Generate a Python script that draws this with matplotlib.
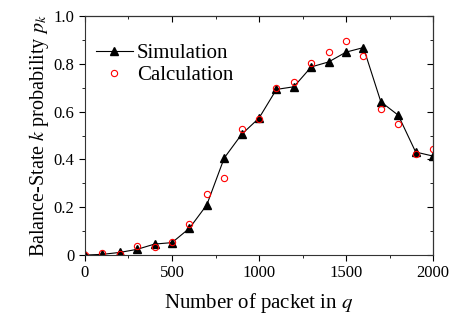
import matplotlib
matplotlib.use("Agg")
import matplotlib.pyplot as plt
from matplotlib.ticker import MultipleLocator

plt.rcParams['font.family'] = ['Liberation Serif', 'DejaVu Serif']
plt.rcParams['mathtext.fontset'] = 'stix'

# packets in queue
packets = [0, 100, 200, 300, 400, 500, 600, 700, 800, 900, 1000,
           1100, 1200, 1300, 1400, 1500, 1600, 1700, 1800, 1900, 2000]
simulation = [0.0, 0.003, 0.011, 0.024, 0.046, 0.052, 0.112, 0.21, 0.406, 0.505, 0.573,
              0.693, 0.704, 0.787, 0.808, 0.849, 0.868, 0.641, 0.585, 0.431, 0.414]
calculation = [0.0, 0.007, 0.006, 0.038, 0.035, 0.056, 0.13, 0.256, 0.324, 0.526, 0.571,
               0.697, 0.724, 0.802, 0.85, 0.895, 0.834, 0.609, 0.55, 0.421, 0.445]

fig = plt.figure(figsize=(4.53, 3.27), dpi=100)
ax = fig.add_axes([0.1876, 0.22, 0.7684, 0.731])

ax.plot(packets, simulation, color='black', lw=0.8, marker='^', ms=6,
        markerfacecolor='black', label='Simulation')
ax.plot(packets, calculation, ls='none', marker='o', ms=4.5, markerfacecolor='none',
        markeredgecolor='red', mew=0.8, label='Calculation')

ax.set_xlim(0, 2000)
ax.set_ylim(0, 1.0)
ax.xaxis.set_major_locator(MultipleLocator(500))
ax.xaxis.set_minor_locator(MultipleLocator(250))
ax.yaxis.set_minor_locator(MultipleLocator(0.1))
ax.set_yticks([0, 0.2, 0.4, 0.6, 0.8, 1.0])
ax.set_yticklabels(['0', '0.2', '0.4', '0.6', '0.8', '1.0'])
ax.tick_params(which='both', direction='out', labelsize=12)
ax.tick_params(which='major', length=4)
ax.tick_params(which='minor', length=2.5)

# inward ticks on top and right
for axis_ in (ax.secondary_xaxis('top'), ax.secondary_yaxis('right')):
    axis_.tick_params(which='both', direction='in', labelsize=0)
    axis_.tick_params(which='major', length=4)
    axis_.tick_params(which='minor', length=2.5)
sx = ax.child_axes[0]
sy = ax.child_axes[1]
sx.xaxis.set_major_locator(MultipleLocator(500))
sx.xaxis.set_minor_locator(MultipleLocator(250))
sx.set_xticklabels([])
sy.yaxis.set_major_locator(MultipleLocator(0.2))
sy.yaxis.set_minor_locator(MultipleLocator(0.1))
sy.set_yticklabels([])

for s in ax.spines.values():
    s.set_color('#333333')

ax.set_xlabel('Number of packet in $q$', fontsize=15, labelpad=7)
ax.set_ylabel('Balance-State $k$ probability $p_k$', fontsize=14.5, labelpad=2)

ax.legend(loc='upper left', bbox_to_anchor=(-0.01, 0.945), frameon=False, fontsize=15,
          handlelength=1.75, handletextpad=0.2, labelspacing=0.1, borderaxespad=0.3)

fig.savefig('out.png', dpi=100)
